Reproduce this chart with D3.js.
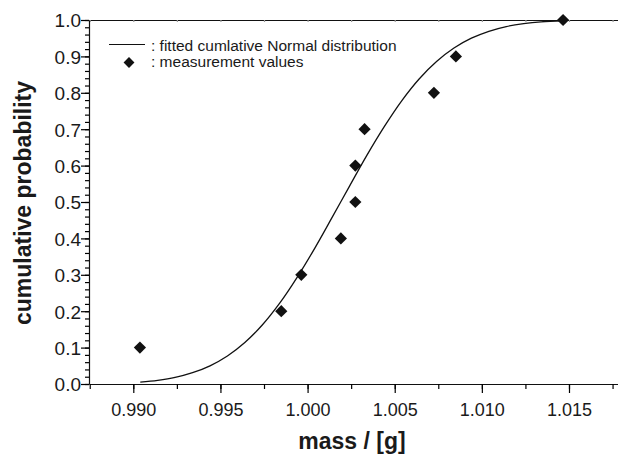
<!DOCTYPE html>
<html><head><meta charset="utf-8">
<script src="https://cdn.jsdelivr.net/npm/d3@7"></script>
<style>body{margin:0;background:#fff}svg{display:block}text{font-family:"Liberation Sans",Arial,Helvetica,sans-serif;fill:#1a1a1a}</style>
</head><body>
<svg id="c" width="618" height="454"></svg>
<script>
// measurement values
const massValues = [0.99038, 0.99849, 0.99964, 1.00191, 1.00274, 1.00274, 1.00327, 1.00725, 1.00851, 1.01466];
const probValues = [0.1, 0.2, 0.3, 0.4, 0.5, 0.6, 0.7, 0.8, 0.9, 1.0];
// fitted cumulative Normal distribution
const curveMass = [0.9904, 0.9914, 0.9924, 0.9934, 0.9944, 0.9954, 0.9964, 0.9974, 0.9984, 0.9994, 1.0004, 1.0014, 1.0024, 1.0034, 1.0044, 1.0054, 1.0064, 1.0074, 1.0084, 1.0094, 1.0104, 1.0114, 1.0124, 1.0134, 1.0147];
const curveProb = [0.005, 0.010, 0.018, 0.031, 0.050, 0.077, 0.114, 0.162, 0.222, 0.293, 0.372, 0.457, 0.543, 0.628, 0.707, 0.778, 0.838, 0.886, 0.923, 0.950, 0.969, 0.982, 0.990, 0.995, 0.998];
const xTicks = [0.990, 0.995, 1.000, 1.005, 1.010, 1.015];
const yTicks = [0.0, 0.1, 0.2, 0.3, 0.4, 0.5, 0.6, 0.7, 0.8, 0.9, 1.0];
const legendLabels = [": fitted cumlative Normal distribution", ": measurement values"];
const xTitle = "mass / [g]";
const yTitle = "cumulative probability";

const svg = d3.select("#c");
const x = d3.scaleLinear().domain([0.987458, 1.017812]).range([89, 618]);
const y = d3.scaleLinear().domain([0, 1]).range([384, 20]);

const xMinor = d3.range(0.9875, 1.0178, 0.0025);
const yMinor = d3.range(0, 1.0001, 0.02);

const g = svg.append("g");
// bottom axis
const xAxis = d3.axisBottom(x).tickValues(xTicks).tickFormat(d3.format(".3f")).tickSize(9).tickSizeOuter(0);
const gx = g.append("g").attr("transform", "translate(0,384)").call(xAxis);
gx.selectAll("text").attr("font-size", 18).attr("dy", 0).attr("y", 32);
const gxm = g.append("g").attr("transform", "translate(0,384)").call(d3.axisBottom(x).tickValues(xMinor).tickSize(5).tickFormat("").tickSizeOuter(0));
gxm.select(".domain").remove();
// top axis (frame) with tiny ticks
const gt = g.append("g").attr("transform", "translate(0,20)").call(d3.axisTop(x).tickValues(xMinor).tickSize(-2).tickFormat("").tickSizeOuter(0));
gt.selectAll(".tick line").attr("stroke", "#999");
// left axis
const yAxis = d3.axisLeft(y).tickValues(yTicks).tickFormat(d3.format(".1f")).tickSize(8).tickSizeOuter(0);
const gy = g.append("g").attr("transform", "translate(89,0)").call(yAxis);
gy.selectAll("text").attr("font-size", 19).attr("x", -8).attr("dy", "0.36em");
const gym = g.append("g").attr("transform", "translate(89,0)").call(d3.axisLeft(y).tickValues(yMinor).tickSize(4).tickFormat("").tickSizeOuter(0));
gym.select(".domain").remove();
svg.selectAll(".domain, .tick line").attr("stroke-width", 1.2);
svg.selectAll(".domain").attr("stroke", "#111");
svg.selectAll("g.tick text").attr("font-family", "Liberation Sans, Arial, sans-serif").attr("fill", "#1a1a1a");

// curve
const pts = curveMass.map((m, i) => [m, curveProb[i]]);
svg.append("path").datum(pts)
  .attr("d", d3.line().x(d => x(d[0])).y(d => y(d[1])).curve(d3.curveCatmullRom))
  .attr("fill", "none").attr("stroke", "#111").attr("stroke-width", 1.3);

// points
const sym = d3.symbol().type(d3.symbolDiamond2).size(95);
svg.append("g").selectAll("path").data(massValues.map((m, i) => [m, probValues[i]])).join("path")
  .attr("d", sym).attr("transform", d => `translate(${x(d[0])},${y(d[1])})`)
  .attr("fill", "#111");

// legend
svg.append("line").attr("x1", 109).attr("x2", 145).attr("y1", 44.5).attr("y2", 44.5).attr("stroke", "#111").attr("stroke-width", 1.2);
svg.append("path").attr("d", d3.symbol().type(d3.symbolDiamond2).size(75)).attr("transform", "translate(129,62.5)").attr("fill", "#111");
svg.append("text").attr("x", 151).attr("y", 50.5).attr("font-size", 15.5).text(legendLabels[0]);
svg.append("text").attr("x", 151).attr("y", 67).attr("font-size", 15.5).text(legendLabels[1]);

// titles
svg.append("text").attr("x", 352).attr("y", 449).attr("text-anchor", "middle").attr("font-size", 23).attr("font-weight", "bold").text(xTitle);
svg.append("text").attr("transform", "translate(31,203) rotate(-90)").attr("text-anchor", "middle").attr("font-size", 23).attr("font-weight", "bold").text(yTitle);
</script>
</body></html>
